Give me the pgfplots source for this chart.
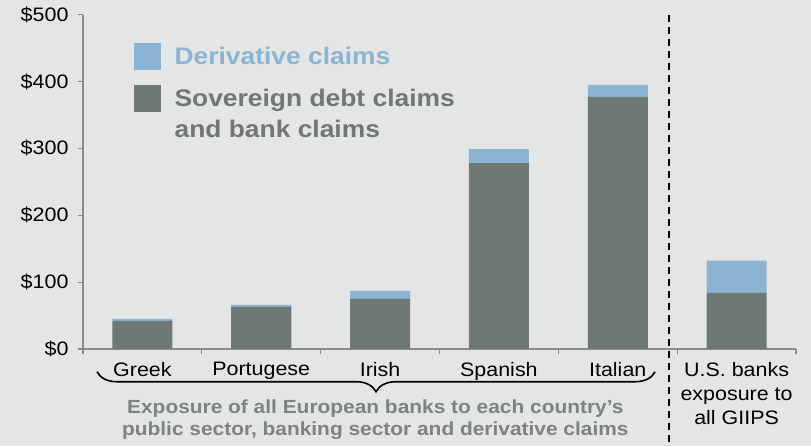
\documentclass[border=0pt]{standalone}
\usepackage{fontspec}
\setmainfont{Liberation Sans}[FakeStretch=1.1]
\usepackage{pgfplots}
\pgfplotsset{compat=1.18}
\usetikzlibrary{decorations.pathreplacing,backgrounds}

\definecolor{bg}{HTML}{E4E5E5}
\definecolor{sov}{HTML}{6E7975}
\definecolor{deriv}{HTML}{8AB4D1}
\definecolor{axgrey}{HTML}{8A8A8A}
\definecolor{notegrey}{HTML}{7A8480}

\begin{document}
\begin{tikzpicture}
\begin{axis}[
    at={(0pt,0pt)}, anchor=south west,
    scale only axis,
    width=713pt, height=334.3pt,
    xmin=-0.5, xmax=5.5, ymin=0, ymax=500,
    ybar stacked, bar width=60pt,
    axis x line*=bottom, axis y line*=left,
    x axis line style={axgrey, line width=2.4pt},
    y axis line style={axgrey, line width=1.4pt},
    ytick={0,100,...,500},
    yticklabels={\$0,\$100,\$200,\$300,\$400,\$500},
    ytick style={axgrey, line width=1.2pt},
    major tick length=5pt, minor tick length=5pt,
    tick align=outside,
    xtick={0,...,5},
    xticklabels={Greek,Portugese,Irish,Spanish,Italian,{U.S. banks\\exposure to\\all GIIPS}},
    major x tick style={draw=none},
    minor xtick={-0.5,0.5,...,5.5},
    minor x tick style={axgrey, line width=1.2pt},
    tick label style={font=\fontsize{19.5}{24}\selectfont, text=black},
    xticklabel style={align=center, anchor=north, yshift=-5pt},
    yticklabel style={xshift=-6pt},
    clip=false,
    legend style={at={(0.0715,0.915)}, anchor=north west, draw=none, fill=none,
        font=\bfseries\fontsize{24}{31}\selectfont,
        cells={anchor=west, align=left}, row sep=15pt, inner sep=0pt,
        column sep=12pt},
]
\addlegendimage{legend image code/.code={\fill[deriv] (0pt,-13pt) rectangle (26pt,13pt);}}
\addlegendentry{\color{deriv}Derivative claims}
\addlegendimage{legend image code/.code={\fill[sov] (0pt,3.5pt) rectangle (26pt,29.5pt);}}
\addlegendentry{{\color{sov}Sovereign debt claims}\\{\color{sov}and bank claims}}

\addplot[fill=sov, draw=none, forget plot] coordinates {(0,42) (1,63) (2,75) (3,278) (4,377) (5,84)};
\addplot[fill=deriv, draw=none, forget plot] coordinates {(0,3) (1,3) (2,12) (3,21) (4,18) (5,48)};

\draw[black, line width=1.6pt, dash pattern=on 7pt off 5pt] (axis cs:4.43,500) -- (axis cs:4.43,-144);
\draw[black, line width=1.6pt, decorate, decoration={brace, mirror, amplitude=20pt}]
    (axis cs:-0.382,-34) -- (axis cs:4.314,-34);
\node[text=notegrey, font=\bfseries\fontsize{19}{23}\selectfont, anchor=base]
    at (axis cs:1.96,-96.1) {Exposure of all European banks to each country’s};
\node[text=notegrey, font=\bfseries\fontsize{19}{23}\selectfont, anchor=base]
    at (axis cs:1.96,-130) {public sector, banking sector and derivative claims};
\end{axis}
\begin{scope}[on background layer]
\fill[bg] (-83pt,-97pt) rectangle (728pt,349pt);
\end{scope}
\end{tikzpicture}
\end{document}
